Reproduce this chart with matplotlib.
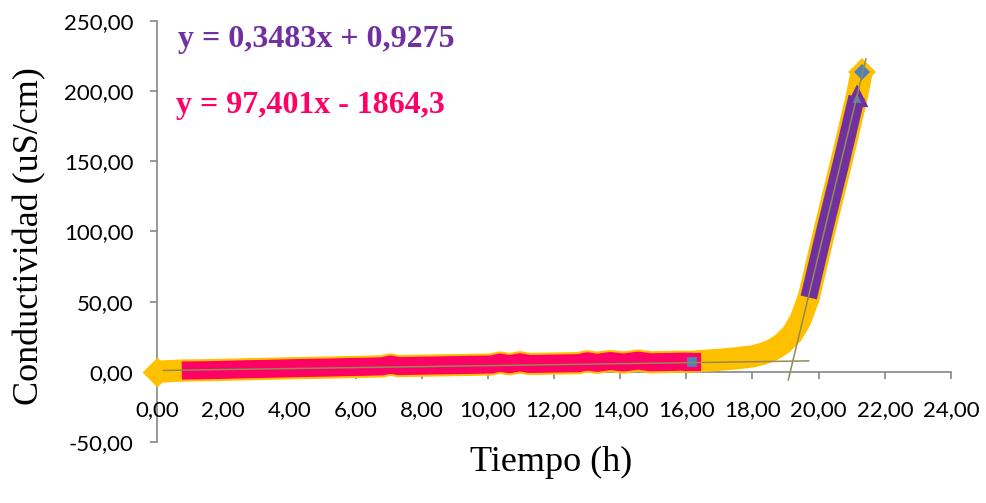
import matplotlib
matplotlib.use("Agg")
import matplotlib.pyplot as plt
import numpy as np

# Full conductivity record (h, uS/cm)
time_h = [0.00, 0.75, 1.30, 1.80, 2.30, 2.80, 3.30, 3.80, 4.30, 4.80, 5.30, 5.80,
          6.30, 6.80, 7.05, 7.30, 7.80, 8.30, 8.80, 9.30, 9.80, 10.10, 10.37,
          10.65, 10.97, 11.25, 11.80, 12.30, 12.75, 13.00, 13.30, 13.70, 14.10,
          14.55, 14.90, 15.40, 15.80, 16.16, 16.50, 17.00, 17.50, 18.00, 18.30,
          18.60, 18.90, 19.20, 19.45, 19.70, 19.95, 20.20, 20.45, 20.70, 20.95,
          21.15, 21.30]
conductivity = [0.00, 0.90, 1.10, 1.30, 1.60, 1.90, 2.10, 2.40, 2.70, 2.90, 3.10,
                3.40, 3.60, 3.90, 5.20, 4.10, 4.30, 4.50, 4.70, 4.90, 5.10, 5.20,
                6.60, 5.40, 6.80, 5.60, 5.80, 6.00, 6.20, 7.50, 6.40, 7.70, 6.60,
                8.00, 6.80, 7.00, 7.20, 7.20, 7.80, 8.60, 9.60, 11.00, 12.80,
                15.50, 20.00, 27.00, 37.00, 53.00, 78.00, 103.00, 127.00, 151.00,
                176.00, 196.00, 213.50]

# Index ranges of the two fitted stages
slow_stage = (1, 38)     # 0.75 h .. 16.16 h
fast_stage = (47, 54)    # 19.70 h .. 21.15 h

# Linear fits shown on the chart
slow_fit = (0.3483, 0.9275)
fast_fit = (97.401, -1864.3)
slow_fit_range = (0.2, 19.7)
fast_fit_range = (19.08, 21.43)

x_ticks = np.arange(0, 25, 2)
y_ticks = np.arange(-50, 251, 50)

YELLOW = "#FFC000"
PINK = "#FF0066"
PURPLE = "#7030A0"
BLUE = "#4F81BD"
OLIVE = "#948A54"
GRAY = "#868686"

fig = plt.figure(figsize=(9.86, 5.03), dpi=100)
ax = fig.add_axes([157 / 986, 1 - 442 / 503, (951 - 157) / 986, (442 - 21) / 503])

t = np.array(time_h)
c = np.array(conductivity)

# whole record as a wide yellow band
ax.plot(t, c, color=YELLOW, lw=16, solid_joinstyle="round", solid_capstyle="butt",
        zorder=2, clip_on=False)
ax.plot(t[0], c[0], marker="D", ms=14, color=YELLOW, mec=YELLOW, zorder=2, clip_on=False)
ax.plot(t[-1], c[-1], marker="D", ms=11, mfc=BLUE, mec=YELLOW, mew=3, zorder=5)

# slow stage
s0, s1 = slow_stage
ax.plot(t[s0:s1], c[s0:s1], color=PINK, lw=13, solid_joinstyle="round",
        solid_capstyle="butt", zorder=3)
ax.plot(t[s1 - 1], c[s1 - 1], marker="s", ms=10, mfc=BLUE, mec=PINK, mew=3, zorder=5)

# fast stage
f0, f1 = fast_stage
ax.plot(t[f0:f1], c[f0:f1], color=PURPLE, lw=12, solid_joinstyle="round",
        solid_capstyle="butt", zorder=3)
ax.plot(t[f1 - 1], c[f1 - 1], marker="^", ms=11, mfc=BLUE, mec=PURPLE, mew=3, zorder=4)

# trend lines
xs = np.array(slow_fit_range)
ax.plot(xs, slow_fit[0] * xs + slow_fit[1], color=OLIVE, lw=1.1, zorder=6)
xf = np.array(fast_fit_range)
ax.plot(xf, fast_fit[0] * xf + fast_fit[1], color=OLIVE, lw=1.1, zorder=6, clip_on=False)

ax.set_xlim(0, 24)
ax.set_ylim(-50, 250)

for side in ("top", "right"):
    ax.spines[side].set_visible(False)
ax.spines["left"].set_color(GRAY)
ax.spines["bottom"].set_color(GRAY)
ax.spines["left"].set_linewidth(1.2)
ax.spines["bottom"].set_linewidth(1.2)
ax.spines["bottom"].set_position(("data", 0))
ax.spines["left"].set_zorder(1)
ax.spines["bottom"].set_zorder(1)

tick_font = dict(family=["Lato", "DejaVu Sans"], size=16)
ax.set_xticks(x_ticks)
ax.set_xticklabels([f"{v:.2f}".replace(".", ",") for v in x_ticks], **tick_font)
ax.set_yticks(y_ticks)
ax.set_yticklabels([f"{v:.2f}".replace(".", ",") for v in y_ticks], **tick_font)
ax.tick_params(axis="x", direction="out", length=5, width=1.2, color=GRAY, pad=15)
ax.tick_params(axis="y", direction="out", length=5, width=1.2, color=GRAY, pad=12)

fig.text(30 / 986, 1 - 236 / 503, "Conductividad (uS/cm)", rotation=90,
         ha="center", va="center", family="Liberation Serif", size=26)
fig.text(551 / 986, 1 - 462 / 503, "Tiempo (h)", ha="center", va="center",
         family="Liberation Serif", size=26)

fig.text(178 / 986, 1 - 40 / 503,
         f"y = {slow_fit[0]:.4f}x + {slow_fit[1]:.4f}".replace(".", ","),
         color=PURPLE, ha="left", va="center", family="Liberation Serif",
         weight="bold", size=23)
fig.text(176 / 986, 1 - 105 / 503,
         f"y = {fast_fit[0]:.3f}x - {abs(fast_fit[1]):.1f}".replace(".", ","),
         color=PINK, ha="left", va="center", family="Liberation Serif",
         weight="bold", size=23)

fig.savefig("out.png", dpi=100)
